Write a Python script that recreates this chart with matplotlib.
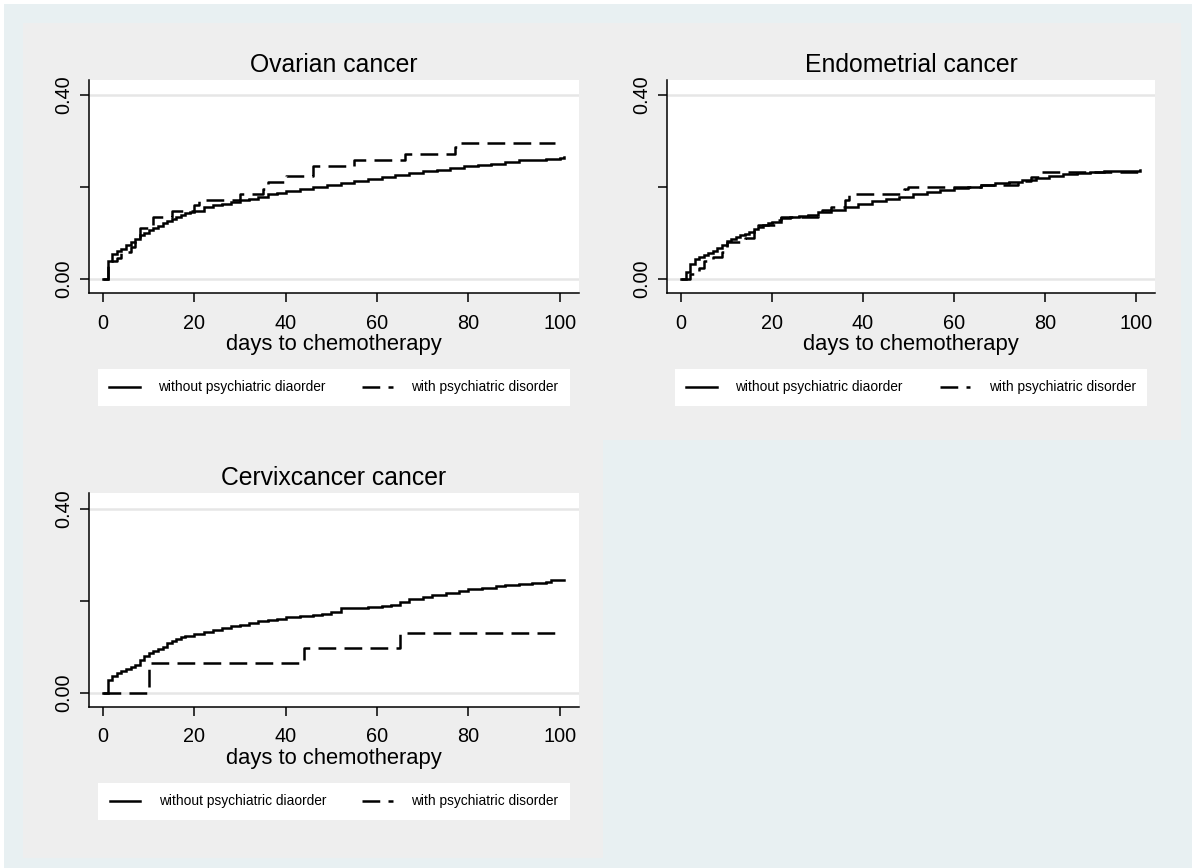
import matplotlib
matplotlib.use("Agg")
import matplotlib.pyplot as plt
from matplotlib.patches import Rectangle

plt.rcParams['font.family'] = ['Liberation Sans', 'DejaVu Sans']

# ---------------- data ----------------
titles = ["Ovarian cancer", "Endometrial cancer", "Cervixcancer cancer"]
legend_labels = ["without psychiatric diaorder", "with psychiatric disorder"]
x_label = "days to chemotherapy"
x_ticks = [0, 20, 40, 60, 80, 100]
y_ticks = [0.0, 0.4]
y_tick_labels = ["0.00", "0.40"]
y_minor_ticks = [0.2]

ov_days_without = [0, 1, 2, 3, 4, 5, 6, 7, 8, 9, 10, 11, 12, 13, 14, 15, 16, 17, 18, 19, 20,
                   22, 24, 26, 28, 30, 32, 34, 36, 38, 40, 43, 46, 49, 52, 55, 58, 61, 64, 67,
                   70, 73, 76, 79, 82, 85, 88, 91, 94, 97, 100, 101]
ov_without = [0, 0.039, 0.055, 0.062, 0.066, 0.074, 0.080, 0.088, 0.095, 0.101, 0.106, 0.110,
              0.116, 0.121, 0.126, 0.131, 0.136, 0.140, 0.143, 0.146, 0.149, 0.156, 0.161,
              0.164, 0.168, 0.171, 0.175, 0.178, 0.184, 0.188, 0.192, 0.196, 0.201, 0.205,
              0.210, 0.214, 0.218, 0.222, 0.226, 0.231, 0.235, 0.238, 0.241, 0.245, 0.248,
              0.251, 0.255, 0.258, 0.260, 0.262, 0.264, 0.265]
ov_days_with = [0, 1, 3, 4, 6, 7, 8, 11, 15, 20, 21, 30, 35, 36, 40, 46, 55, 66, 77, 78, 99]
ov_with = [0, 0.039, 0.046, 0.058, 0.070, 0.082, 0.110, 0.135, 0.149, 0.162, 0.172, 0.186,
           0.196, 0.211, 0.225, 0.247, 0.259, 0.271, 0.287, 0.296, 0.296]

en_days_without = [0, 1, 2, 3, 4, 5, 6, 7, 8, 9, 10, 11, 12, 13, 14, 15, 16, 17, 18, 19, 20,
                   22, 24, 26, 28, 30, 33, 36, 39, 42, 45, 48, 51, 54, 57, 60, 63, 66, 69, 72,
                   75, 78, 81, 84, 87, 90, 93, 96, 99, 101]
en_without = [0, 0.015, 0.033, 0.044, 0.048, 0.052, 0.056, 0.062, 0.068, 0.075, 0.083, 0.088,
              0.091, 0.095, 0.099, 0.103, 0.108, 0.113, 0.117, 0.121, 0.124, 0.133, 0.135,
              0.137, 0.140, 0.146, 0.151, 0.157, 0.164, 0.169, 0.174, 0.178, 0.184, 0.189,
              0.193, 0.198, 0.201, 0.204, 0.208, 0.212, 0.216, 0.220, 0.224, 0.228, 0.230,
              0.232, 0.234, 0.235, 0.236, 0.238]
en_days_with = [0, 2, 4, 5, 7, 9, 10, 14, 16, 17, 21, 22, 30, 31, 33, 36, 37, 49, 50, 66, 74,
                77, 79, 101]
en_with = [0, 0.012, 0.023, 0.040, 0.048, 0.059, 0.080, 0.090, 0.106, 0.117, 0.128, 0.136,
           0.145, 0.150, 0.156, 0.171, 0.186, 0.195, 0.201, 0.204, 0.214, 0.222, 0.232, 0.232]

cx_days_without = [0, 1, 2, 3, 4, 5, 6, 7, 8, 9, 10, 11, 12, 13, 14, 15, 16, 17, 18, 20, 22,
                   24, 26, 28, 30, 32, 34, 36, 38, 40, 43, 46, 48, 50, 52, 55, 58, 61, 63, 65,
                   67, 70, 72, 75, 78, 80, 83, 86, 88, 91, 94, 97, 98, 101]
cx_without = [0, 0.027, 0.036, 0.042, 0.047, 0.052, 0.056, 0.061, 0.072, 0.080, 0.087, 0.091,
              0.095, 0.100, 0.108, 0.113, 0.117, 0.120, 0.123, 0.127, 0.131, 0.137, 0.141,
              0.145, 0.148, 0.152, 0.155, 0.158, 0.160, 0.164, 0.166, 0.168, 0.172, 0.176,
              0.184, 0.185, 0.187, 0.189, 0.191, 0.197, 0.203, 0.207, 0.213, 0.217, 0.220,
              0.225, 0.228, 0.231, 0.234, 0.237, 0.239, 0.241, 0.244, 0.244]
cx_days_with = [0, 10, 44, 65, 99]
cx_with = [0, 0.065, 0.098, 0.130, 0.130]

panels = [
    (titles[0], ov_days_without, ov_without, ov_days_with, ov_with),
    (titles[1], en_days_without, en_without, en_days_with, en_with),
    (titles[2], cx_days_without, cx_without, cx_days_with, cx_with),
]

# ---------------- layout (pixels) ----------------
W, H = 1192, 868
OUTER = '#e8f0f2'
PANEL = '#eeeeee'
GRID = '#e6e6e6'

fig = plt.figure(figsize=(W / 100, H / 100), dpi=100)
fig.patch.set_facecolor('white')


def add_rect(x0, y0, x1, y1, color):
    fig.add_artist(Rectangle((x0 / W, 1 - y1 / H), (x1 - x0) / W, (y1 - y0) / H,
                             transform=fig.transFigure, facecolor=color,
                             edgecolor='none', zorder=-10))


add_rect(4, 4, W, H, OUTER)
add_rect(23, 23, 1181, 440, PANEL)
add_rect(23, 440, 603, 858, PANEL)

axes_px = [(89, 80, 579, 293.3), (667, 80, 1155, 293.3), (89, 493.4, 579, 707)]
legend_px = [(97.6, 368, 570, 407), (674.5, 368, 1147.4, 407), (98, 782, 570, 821)]

LW = 1.8
for (title, dw, vw, dd, vd), (x0, y0, x1, y1), (lx0, ly0, lx1, ly1) in zip(panels, axes_px, legend_px):
    ax = fig.add_axes([x0 / W, 1 - y1 / H, (x1 - x0) / W, (y1 - y0) / H])
    ax.set_facecolor('white')
    l1, = ax.plot(dw, vw, drawstyle='steps-post', color='black', lw=LW,
                  solid_joinstyle='miter', label=legend_labels[0])
    l2, = ax.plot(dd, vd, drawstyle='steps-post', color='black', lw=LW,
                  dashes=(7.1, 3.3), label=legend_labels[1])
    ax.set_xlim(-3.1, 104.2)
    ax.set_ylim(-0.031, 0.433)
    ax.set_xticks(x_ticks)
    ax.set_xticklabels([str(t) for t in x_ticks])
    ax.set_yticks(y_ticks)
    ax.set_yticklabels(y_tick_labels, rotation=90, va='center')
    ax.set_yticks(y_minor_ticks, minor=True)
    ax.grid(axis='y', which='major', color=GRID, lw=1.8)
    ax.set_axisbelow(True)
    for s in ['top', 'right']:
        ax.spines[s].set_visible(False)
    for s in ['left', 'bottom']:
        ax.spines[s].set_linewidth(1.1)
    ax.tick_params(which='both', direction='out', length=6.2, width=1.1, color='black')
    ax.tick_params(axis='x', labelsize=14.3, pad=8.5)
    ax.tick_params(axis='y', labelsize=14.3, pad=5)
    ax.set_title(title, fontsize=17.8, pad=6)
    ax.set_xlabel(x_label, fontsize=15.8, labelpad=1.2)

    w = (lx1 - lx0) / W
    h = (ly1 - ly0) / H
    ax.legend(handles=[l1, l2], loc='center', ncol=2, mode='expand',
              bbox_to_anchor=(lx0 / W, 1 - ly1 / H, w, h),
              bbox_transform=fig.transFigure, fontsize=9.9, frameon=True,
              fancybox=False, framealpha=1, facecolor='white', edgecolor='none',
              borderpad=0.84, handlelength=2.22, handletextpad=1.35,
              borderaxespad=0)

fig.savefig('out.png', dpi=100, facecolor=fig.get_facecolor())
